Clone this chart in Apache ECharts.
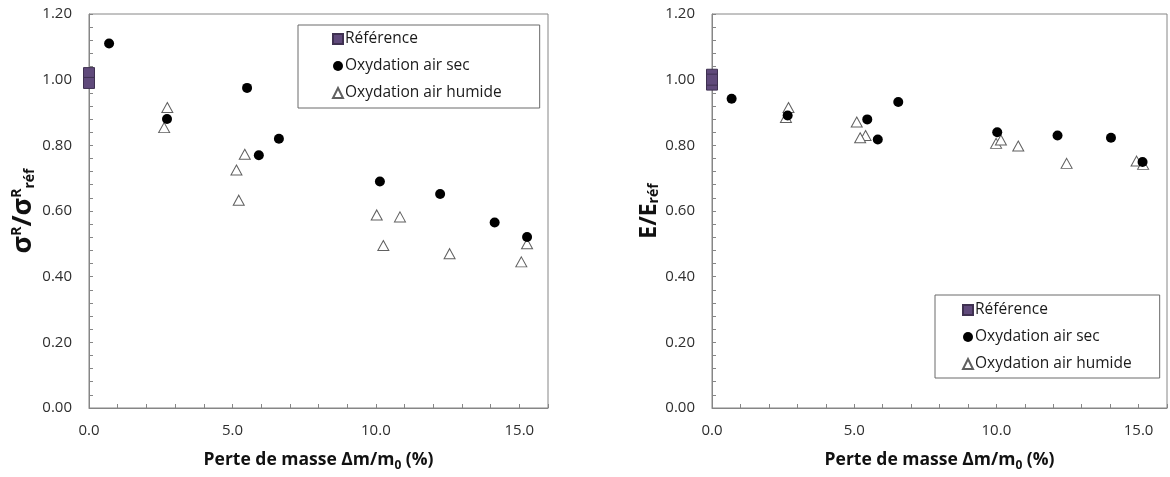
<!DOCTYPE html>
<html>
<head>
<meta charset="utf-8">
<script src="https://cdn.jsdelivr.net/npm/echarts@6/dist/echarts.min.js"></script>
<style>
html,body{margin:0;padding:0;background:#fff;}
#c{width:1170px;height:477px;}
</style>
</head>
<body>
<div id="c"></div>
<script>
// ---- Data (left chart: sigmaR / sigmaR_ref) ----
const seriesNames = ['Référence', 'Oxydation air sec', 'Oxydation air humide'];
const refX_L = [0, 0];
const refY_L = [1.02, 0.99];
const dryX_L = [0.70, 2.72, 5.51, 5.92, 6.62, 10.14, 12.24, 14.14, 15.27];
const dryY_L = [1.11, 0.88, 0.975, 0.77, 0.82, 0.69, 0.652, 0.565, 0.521];
const humX_L = [2.73, 2.62, 5.43, 5.14, 5.22, 10.03, 10.84, 10.26, 12.57, 15.27, 15.07];
const humY_L = [0.915, 0.854, 0.773, 0.725, 0.633, 0.588, 0.582, 0.495, 0.47, 0.50, 0.445];

// ---- Data (right chart: E / E_ref) ----
const refX_R = [0, 0, 0];
const refY_R = [1.015, 0.985, 1.0];
const dryX_R = [0.69, 2.66, 5.46, 5.83, 6.55, 10.03, 12.15, 14.03, 15.14];
const dryY_R = [0.942, 0.891, 0.879, 0.818, 0.932, 0.840, 0.830, 0.823, 0.749];
const humX_R = [2.69, 2.60, 5.09, 5.40, 5.21, 9.99, 10.16, 10.77, 12.47, 14.93, 15.16];
const humY_R = [0.915, 0.885, 0.871, 0.830, 0.823, 0.806, 0.816, 0.798, 0.745, 0.752, 0.742];

// ---- Axis ranges / tick labels ----
const xMin = 0, xMax = 16, xStep = 1, xLabelEvery = 5;
const yMin = 0, yMax = 1.2, yStep = 0.2;

const zip = (xs, ys) => xs.map((x, i) => [x, ys[i]]);

const FONT = '"Open Sans", "Noto Sans", sans-serif';
const AXIS_COLOR = '#868686';
const LABEL_COLOR = '#2e2e2e';

function xAxis(gridIndex) {
  return {
    type: 'value', gridIndex, min: xMin, max: xMax, interval: xStep,
    axisLine: { show: true, onZero: false, lineStyle: { color: AXIS_COLOR, width: 1 } },
    axisTick: { show: true, inside: true, length: 4, lineStyle: { color: AXIS_COLOR } },
    splitLine: { show: false },
    axisLabel: {
      margin: 15, color: LABEL_COLOR, fontFamily: FONT, fontSize: 15,
      formatter: v => (Math.round(v) % xLabelEvery === 0 && v < xMax) ? v.toFixed(1) : ''
    },
    name: '{t|Perte de masse \u0394m/m}{s|0}{t| (%)}',
    nameLocation: 'middle', nameGap: 43,
    nameTextStyle: {
      rich: {
        t: { fontFamily: FONT, fontWeight: 'bold', fontSize: 17.5, color: '#111', verticalAlign: 'bottom' },
        s: { fontFamily: FONT, fontWeight: 'bold', fontSize: 12, color: '#111', verticalAlign: 'bottom', padding: [0, 0, -3, 0] }
      }
    }
  };
}
function yAxis(gridIndex, name, gap, rich) {
  return {
    type: 'value', gridIndex, min: yMin, max: yMax, interval: yStep,
    axisLine: { show: true, lineStyle: { color: AXIS_COLOR, width: 1 } },
    axisTick: { show: true, inside: true, length: 4, lineStyle: { color: AXIS_COLOR } },
    minorTick: { show: true, splitNumber: 5, length: 4, lineStyle: { color: AXIS_COLOR } },
    splitLine: { show: false },
    axisLabel: { margin: 17, color: LABEL_COLOR, fontFamily: FONT, fontSize: 15, formatter: v => v.toFixed(2) },
    name, nameLocation: 'middle', nameGap: gap, nameRotate: 90,
    nameTextStyle: { rich }
  };
}
const richL = {
  b: { fontFamily: FONT, fontWeight: 'bold', fontSize: 27, color: '#111' },
  sup: { fontFamily: FONT, fontWeight: 'bold', fontSize: 14, color: '#111', verticalAlign: 'top', padding: [0, 0, 12, 0] },
  sub: { fontFamily: FONT, fontWeight: 'bold', fontSize: 14, color: '#111', verticalAlign: 'bottom', padding: [10, 0, 0, 0] }
};
const richR = {
  b: { fontFamily: FONT, fontWeight: 'bold', fontSize: 23, color: '#111' },
  sub: { fontFamily: FONT, fontWeight: 'bold', fontSize: 14, color: '#111', verticalAlign: 'bottom', padding: [10, 0, 0, 0] }
};

function sers(xi, refX, refY, dryX, dryY, humX, humY) {
  return [
    { name: seriesNames[0], type: 'scatter', xAxisIndex: xi, yAxisIndex: xi, clip: false,
      symbol: 'rect', symbolSize: 11, z: 4,
      itemStyle: { color: '#604a7b', borderColor: '#3f3151', borderWidth: 1, opacity: 1 },
      data: zip(refX, refY) },
    { name: seriesNames[1], type: 'scatter', xAxisIndex: xi, yAxisIndex: xi, clip: false,
      symbol: 'circle', symbolSize: 10, z: 3,
      itemStyle: { color: '#000', opacity: 1 },
      data: zip(dryX, dryY) },
    { name: seriesNames[2], type: 'scatter', xAxisIndex: xi, yAxisIndex: xi, clip: false,
      symbol: 'triangle', symbolSize: [11, 10], z: 2,
      itemStyle: { color: '#fff', borderColor: '#606060', borderWidth: 1, opacity: 1 },
      data: zip(humX, humY) }
  ];
}

function legend(left, top, padding) {
  return {
    show: true, orient: 'vertical', left, top, padding,
    data: seriesNames, itemWidth: 10, itemHeight: 10, itemGap: 11,
    borderColor: '#6a6a6a', borderWidth: 1, backgroundColor: '#fff',
    textStyle: { fontFamily: FONT, fontSize: 15.5, color: '#1a1a1a', padding: [0, 0, 0, -3] },
    selectedMode: false
  };
}

const chart = echarts.init(document.getElementById('c'), null, { renderer: 'canvas' });
chart.setOption({
  animation: false,
  backgroundColor: '#fff',
  grid: [
    { left: 89, top: 14, right: 622, bottom: 69, show: true, borderColor: AXIS_COLOR, borderWidth: 1, containLabel: false },
    { left: 712, top: 14, right: -5, bottom: 69, show: true, borderColor: AXIS_COLOR, borderWidth: 1, containLabel: false }
  ],
  xAxis: [xAxis(0), xAxis(1)],
  yAxis: [
    yAxis(0, '{b|\u03C3}{sup|R}{b|/\u03C3}{sup|R}{sub|réf}', 52, richL),
    yAxis(1, '{b|E/E}{sub|réf}', 42, richR)
  ],
  legend: [legend(298, 25, [6, 38, 7, 34]), legend(935, 295, [7, 28, 6, 27])],
  series: [].concat(
    sers(0, refX_L, refY_L, dryX_L, dryY_L, humX_L, humY_L),
    sers(1, refX_R, refY_R, dryX_R, dryY_R, humX_R, humY_R)
  )
});
</script>
</body>
</html>
